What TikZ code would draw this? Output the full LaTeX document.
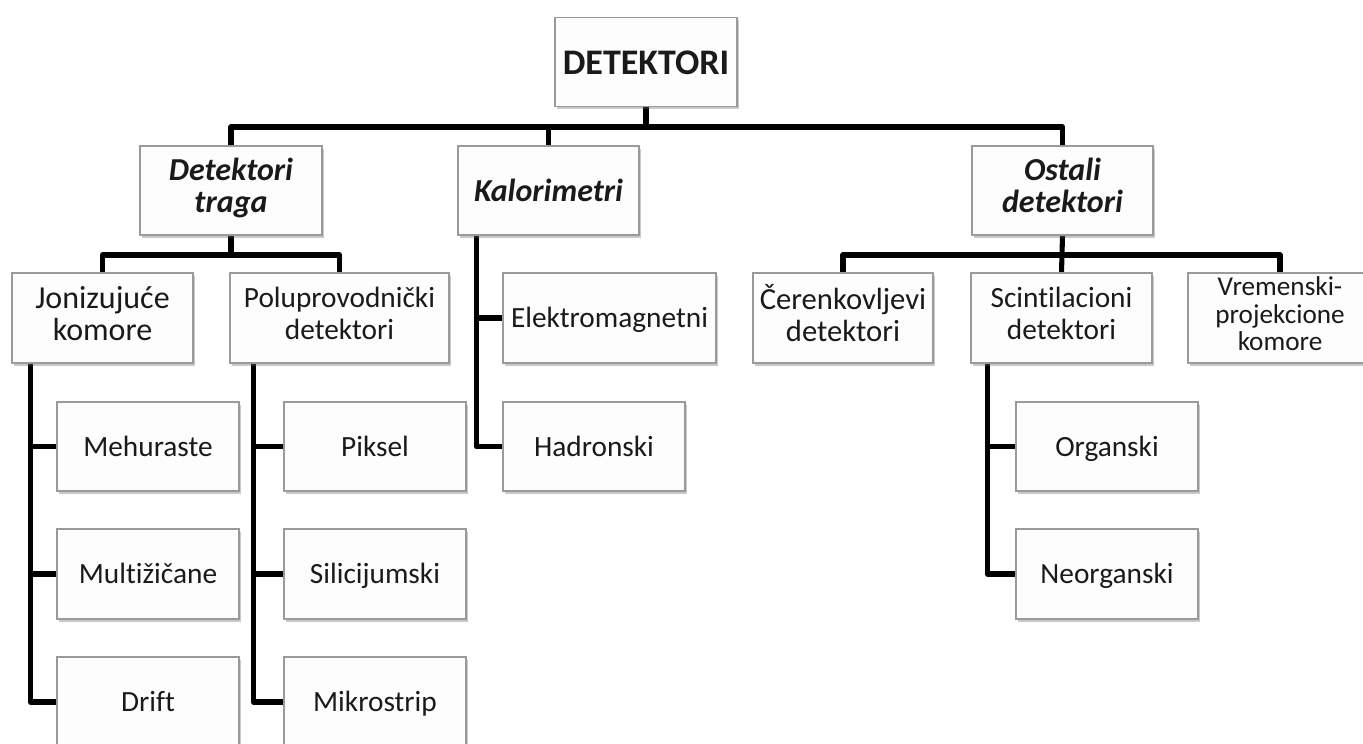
\documentclass[tikz,border=0pt]{standalone}
\usepackage{fontspec}
\setmainfont{Carlito}[Ligatures=NoCommon]
\usetikzlibrary{shadows,backgrounds}
\newlength\px
\setlength\px{0.75pt}
\newcommand\onestrut{\rule[-0.22em]{0pt}{1.12em}}
\definecolor{boxborder}{HTML}{9A9A9A}
\definecolor{boxfill}{HTML}{FDFDFD}
\definecolor{txt}{HTML}{1A1A1A}
\tikzset{
  box/.style={draw=boxborder, line width=1.2pt, fill=boxfill, text=txt,
    minimum width=182\px, minimum height=89\px, inner sep=0pt, align=center,
    drop shadow={shadow xshift=1.5pt, shadow yshift=-2pt, opacity=0.35, fill=black!60}},
  multi/.style={execute at begin node=\strut, execute at end node=\strut},
  single/.style={execute at begin node=\onestrut},
  toptext/.style={font=\fontsize{27}{30}\selectfont\bfseries},
  midtext/.style={font=\fontsize{24}{24}\selectfont\bfseries\itshape},
  lowtext/.style={font=\fontsize{22}{24}\selectfont},
  bigtext/.style={font=\fontsize{24}{24}\selectfont},
  medtext/.style={font=\fontsize{23}{24}\selectfont},
  smalltext/.style={font=\fontsize{20.4}{20.6}\selectfont},
  conn/.style={line width=3.8pt, draw=black, line join=round},
}
\begin{document}
\begin{tikzpicture}[x=\px, y=-\px]
\clip (0,0) rectangle (1363,743);
% level 0
\node[box, single, toptext] (root) at (646,62) {DETEKTORI};
% level 1
\node[box, multi, midtext] (traga) at (231,190.5) {Detektori\\traga};
\node[box, single, midtext, minimum width=181\px] (kal) at (548.5,190.5) {Kalorimetri};
\node[box, multi, midtext, minimum width=181\px] (ost) at (1062.5,190.5) {Ostali\\detektori};
% level 2
\node[box, multi, bigtext, minimum width=181\px, minimum height=90\px] (jon) at (102.5,318) {Jonizujuće\\komore};
\node[box, multi, lowtext, minimum width=219\px, minimum height=90\px] (polu) at (339.5,318) {Poluprovodnički\\detektori};
\node[box, single, lowtext, minimum width=213\px, minimum height=90\px] (elm) at (609.5,318) {Elektromagnetni};
\node[box, single, lowtext] (had) at (594,446.5) {Hadronski};
\node[box, multi, medtext, minimum width=180\px, minimum height=90\px] (cer) at (843,318) {Čerenkovljevi\\detektori};
\node[box, multi, lowtext, minimum width=181\px, minimum height=90\px] (sci) at (1061.5,318) {Scintilacioni\\detektori};
\node[box, multi, smalltext, minimum width=184\px, minimum height=90\px] (vre) at (1280,318) {Vremenski-\\projekcione\\komore};
% level 3
\node[box, single, lowtext] (meh) at (148,446.5) {Mehuraste};
\node[box, single, lowtext, minimum height=90\px] (mul) at (148,574) {Multižičane};
\node[box, single, lowtext, minimum height=90\px] (drift) at (148,702) {Drift};
\node[box, single, lowtext] (pik) at (375,446.5) {Piksel};
\node[box, single, lowtext, minimum height=90\px] (sil) at (375,574) {Silicijumski};
\node[box, single, lowtext, minimum height=90\px] (mik) at (375,702) {Mikrostrip};
\node[box, single, lowtext] (org) at (1107,446.5) {Organski};
\node[box, single, lowtext, minimum height=90\px] (neo) at (1107,574) {Neorganski};
% connectors
\begin{scope}[on background layer]
\fill[white] (0,0) rectangle (1363,743);
\coordinate (bar0) at (0,127);
\coordinate (bar1) at (0,255);
\draw[conn] (root.south) -- (root.south |- bar0);
\draw[conn] (traga.north) |- (root.south |- bar0) -| (ost.north);
\draw[conn] (kal.north) -- (kal.north |- bar0);
\draw[conn] (traga.south) -- (traga.south |- bar1);
\draw[conn] (jon.north) |- (traga.south |- bar1) -| (polu.north);
\draw[conn] (ost.south) -- (sci.north);
\draw[conn] (cer.north) |- (ost.south |- bar1) -| (vre.north);
% trunks
\draw[conn] ([xshift=19\px]jon.south west) |- (drift.west);
\draw[conn] ([xshift=19\px]jon.south west) |- (meh.west);
\draw[conn] ([xshift=19\px]jon.south west) |- (mul.west);
\draw[conn] ([xshift=24\px]polu.south west) |- (mik.west);
\draw[conn] ([xshift=24\px]polu.south west) |- (pik.west);
\draw[conn] ([xshift=24\px]polu.south west) |- (sil.west);
\draw[conn] ([xshift=19\px]kal.south west) |- (had.west);
\draw[conn] ([xshift=19\px]kal.south west) |- (elm.west);
\draw[conn] ([xshift=17\px]sci.south west) |- (neo.west);
\draw[conn] ([xshift=17\px]sci.south west) |- (org.west);
\end{scope}
\end{tikzpicture}
\end{document}
